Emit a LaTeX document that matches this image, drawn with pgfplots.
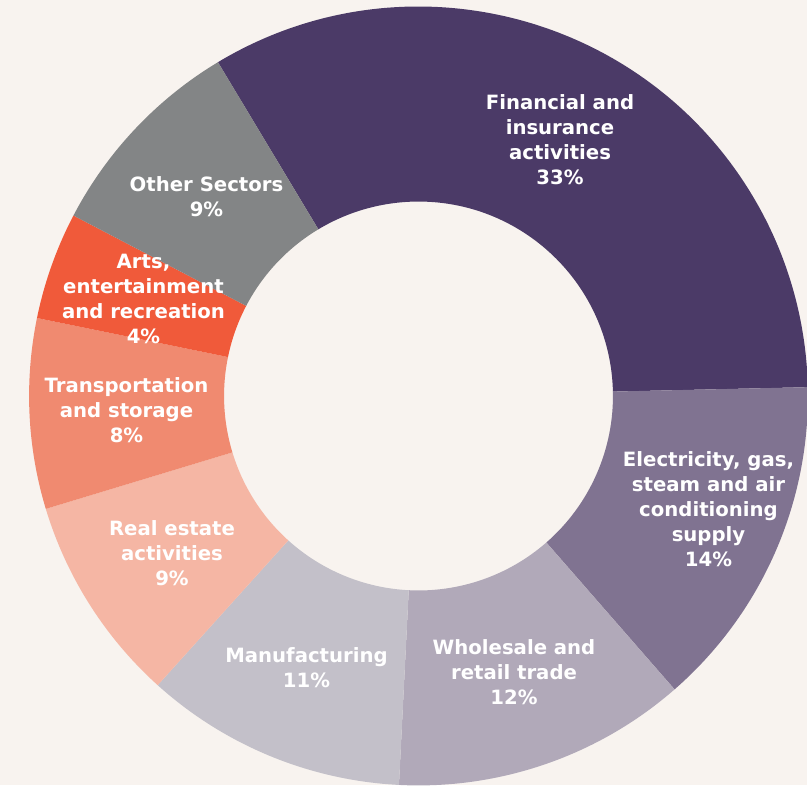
\documentclass[border=0pt]{standalone}
\usepackage{pgfplots}
\pgfplotsset{compat=1.18}
\usepackage{pgfplotstable}
\usepackage{fontspec}
\setmainfont{DejaVu Sans}
\definecolor{bg}{HTML}{F8F3EF}
\definecolor{cFin}{HTML}{4B3A67}
\definecolor{cEle}{HTML}{807391}
\definecolor{cWho}{HTML}{B1A9B9}
\definecolor{cMan}{HTML}{C3C0C9}
\definecolor{cRea}{HTML}{F5B6A4}
\definecolor{cTra}{HTML}{F08A70}
\definecolor{cArt}{HTML}{F05A3A}
\definecolor{cOth}{HTML}{838586}
\tikzset{lbl/.style={text=white, align=center, font=\bfseries\fontsize{11.2}{14.2}\selectfont}}
\pgfplotstableread[col sep=comma]{
label,value,col
Financial and insurance activities,33.25,cFin
Electricity gas steam and air conditioning supply,13.94,cEle
Wholesale and retail trade,12.22,cWho
Manufacturing,10.88,cMan
Real estate activities,8.64,cRea
Transportation and storage,7.89,cTra
Arts entertainment and recreation,4.46,cArt
Other Sectors,8.72,cOth
}\data
\begin{document}
\begin{tikzpicture}
\begin{axis}[x=0.02cm, y=0.02cm, xmin=-418.5, xmax=388.5, ymin=-389, ymax=396,
  hide axis, clip=true]
\fill[bg] (rel axis cs:0,0) rectangle (rel axis cs:1,1);
\pgfplotstablegetrowsof{\data}
\pgfmathtruncatemacro\N{\pgfplotsretval-1}
\def\curang{121.0}
\def\Rout{7.79cm}
\def\Rin{3.89cm}
\pgfplotsforeachungrouped \i in {0,...,\N}{
  \pgfplotstablegetelem{\i}{value}\of\data \let\v\pgfplotsretval
  \pgfplotstablegetelem{\i}{col}\of\data \let\col\pgfplotsretval
  \pgfmathsetmacro\b{\curang-3.6*\v}
  \edef\doit{\noexpand\fill[fill=\col, shift={(axis cs:0,0)}] (\curang:\Rout) arc[start angle=\curang, end angle=\b, radius=\Rout] -- (\b:\Rin) arc[start angle=\b, end angle=\curang, radius=\Rin] -- cycle;}
  \doit
  \global\let\curang\b
}
\node[lbl] at (axis cs:141.5,256) {Financial and\\insurance\\activities\\33\%};
\node[lbl] at (axis cs:290,-113.5) {Electricity, gas,\\steam and air\\conditioning\\supply\\14\%};
\node[lbl] at (axis cs:95.5,-276) {Wholesale and\\retail trade\\12\%};
\node[lbl] at (axis cs:-112,-271.5) {Manufacturing\\11\%};
\node[lbl] at (axis cs:-246.5,-157) {Real estate\\activities\\9\%};
\node[lbl] at (axis cs:-292,-14) {Transportation\\and storage\\8\%};
\node[lbl] at (axis cs:-275,97) {Arts,\\entertainment\\and recreation\\4\%};
\node[lbl] at (axis cs:-212,199.5) {Other Sectors\\9\%};
\end{axis}
\end{tikzpicture}
\end{document}
